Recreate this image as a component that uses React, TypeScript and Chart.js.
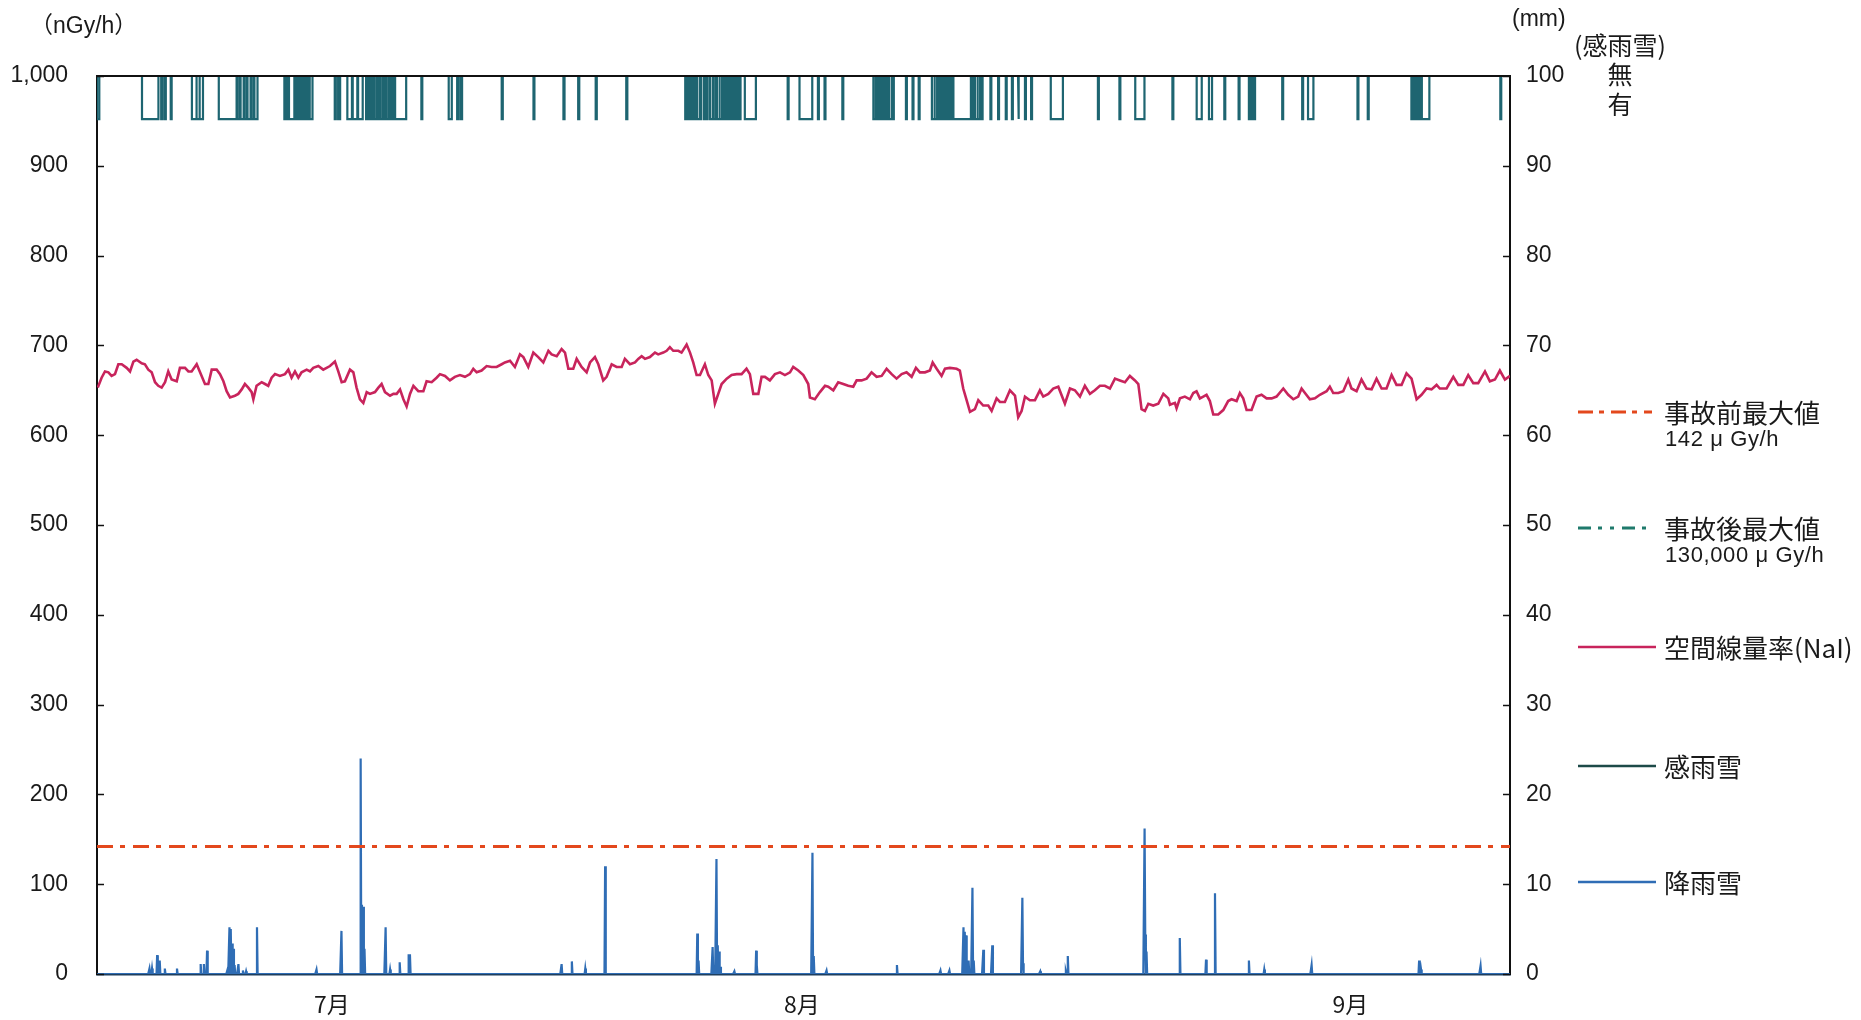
import React, { useEffect, useRef } from 'react';
import { Chart, registerables } from 'chart.js';

Chart.register(...registerables);

// ---------------- data ----------------
const TOTAL_DAYS = 92;
const monthTickDays = [15.3, 45.9, 81.6];
const monthLabels = ['7月', '8月', '9月'];

const preAccidentMax = 142; // nGy/h line
const postAccidentMax = 130000; // off-scale
const sensorOffLevel = 1000; // 無
const sensorOnLevel = 952; // 有

// 空間線量率(NaI) [day, nGy/h]
const naiDoseRate: [number, number][] = [
  [0.05, 653], [0.3, 664], [0.52, 671], [0.74, 670], [0.95, 666], [1.17, 668], [1.39, 679], [1.61, 679], [1.93, 675], [2.15, 671],
  [2.37, 682], [2.58, 684], [2.91, 680], [3.12, 679], [3.34, 673], [3.56, 670], [3.78, 659], [3.99, 655], [4.21, 653], [4.43, 659],
  [4.64, 671], [4.86, 662], [5.19, 660], [5.4, 675], [5.73, 675], [5.95, 671], [6.16, 671], [6.49, 679], [6.71, 670], [7.03, 657],
  [7.25, 657], [7.47, 673], [7.79, 673], [8.01, 668], [8.23, 660], [8.44, 649], [8.66, 642], [8.98, 644], [9.2, 646], [9.42, 651],
  [9.63, 657], [9.85, 653], [10.07, 648], [10.18, 640], [10.39, 655], [10.72, 659], [10.94, 657], [11.15, 655], [11.37, 664], [11.59, 668],
  [11.91, 666], [12.24, 668], [12.46, 673], [12.67, 664], [12.89, 671], [13.11, 664], [13.32, 670], [13.65, 673], [13.87, 671], [14.08, 675],
  [14.41, 677], [14.73, 673], [14.95, 675], [15.17, 677], [15.49, 682], [15.71, 671], [15.93, 659], [16.14, 660], [16.47, 673], [16.69, 670],
  [16.9, 653], [17.12, 640], [17.34, 636], [17.56, 648], [17.77, 646], [18.1, 648], [18.32, 653], [18.53, 657], [18.75, 648], [19.08, 644],
  [19.3, 646], [19.51, 646], [19.73, 651], [19.95, 640], [20.16, 632], [20.38, 646], [20.6, 655], [20.92, 649], [21.25, 649], [21.46, 660],
  [21.79, 659], [22.11, 664], [22.33, 668], [22.66, 666],
  [22.98, 661], [23.3, 665], [23.63, 667], [23.96, 665], [24.28, 668], [24.5, 674], [24.72, 670], [25.04, 672], [25.37, 677], [25.69, 676],
  [26.02, 676], [26.35, 679], [26.56, 681], [26.89, 683], [27.21, 676], [27.54, 690], [27.76, 687], [28.08, 676], [28.41, 692], [28.73, 687],
  [29.06, 681], [29.39, 694], [29.6, 690], [29.93, 688], [30.25, 696], [30.47, 692], [30.69, 674], [31.01, 674], [31.23, 685], [31.55, 676],
  [31.88, 670], [32.1, 681], [32.42, 687], [32.64, 679], [32.96, 661], [33.18, 665], [33.51, 679], [33.83, 676], [34.16, 676], [34.37, 685],
  [34.7, 679], [35.03, 681], [35.24, 685], [35.46, 688], [35.68, 685], [36.0, 687], [36.33, 692], [36.54, 690], [36.87, 692], [37.09, 694],
  [37.3, 698], [37.52, 694], [37.85, 694], [38.06, 692], [38.39, 701], [38.61, 692], [38.82, 681], [39.04, 667], [39.26, 667], [39.58, 679],
  [39.8, 667], [40.02, 661], [40.23, 635], [40.45, 646], [40.67, 657], [41.0, 663], [41.32, 667], [41.65, 668], [41.97, 668], [42.29, 674],
  [42.51, 668], [42.73, 646], [43.06, 646], [43.27, 665], [43.49, 665], [43.81, 661], [44.14, 668], [44.47, 670], [44.79, 667], [45.12, 670],
  [45.33, 676], [45.66, 672], [45.99, 667], [46.31, 657],
  [46.42, 642], [46.74, 640], [47.07, 648], [47.4, 655], [47.61, 654], [47.94, 650], [48.26, 659], [48.59, 657], [48.91, 655], [49.24, 654],
  [49.46, 661], [49.78, 661], [50.11, 663], [50.43, 670], [50.76, 665], [51.09, 666], [51.41, 674], [51.74, 668], [52.06, 663], [52.39, 668],
  [52.71, 670], [53.04, 665], [53.32, 675], [53.58, 670], [53.91, 670], [54.23, 672], [54.41, 681], [54.67, 674], [54.99, 666], [55.21, 674],
  [55.53, 675], [55.97, 674], [56.18, 672], [56.4, 652], [56.62, 639], [56.84, 626], [57.16, 629], [57.38, 639], [57.7, 633], [58.03, 633],
  [58.25, 627], [58.57, 641], [58.79, 637], [59.11, 637], [59.44, 650], [59.77, 644], [59.98, 620], [60.2, 627], [60.42, 643], [60.74, 639],
  [61.07, 639], [61.39, 650], [61.61, 643], [61.94, 646], [62.26, 652], [62.59, 654], [63.02, 635], [63.35, 652], [63.67, 650], [64.0, 643],
  [64.32, 655], [64.65, 646], [64.97, 650], [65.3, 655], [65.62, 655], [65.95, 652], [66.28, 663], [66.6, 661], [66.93, 659], [67.25, 666],
  [67.58, 661], [67.8, 657], [68.01, 629], [68.23, 627], [68.45, 635], [68.77, 633], [69.1, 635], [69.43, 646], [69.75, 641],
  [69.86, 634], [70.18, 636], [70.29, 630], [70.51, 641], [70.83, 643], [71.16, 640], [71.38, 647], [71.59, 649], [71.81, 641], [72.03, 643],
  [72.24, 645], [72.46, 638], [72.68, 623], [73.0, 623], [73.33, 628], [73.65, 638], [73.87, 640], [74.2, 638], [74.41, 647], [74.63, 641],
  [74.85, 628], [75.17, 628], [75.5, 643], [75.82, 645], [76.15, 641], [76.48, 641], [76.8, 643], [77.24, 652], [77.56, 645], [77.89, 640],
  [78.21, 643], [78.43, 652], [78.65, 647], [78.97, 640], [79.3, 641], [79.62, 645], [80.06, 649], [80.27, 654], [80.49, 647], [80.82, 647],
  [81.14, 649], [81.47, 662], [81.68, 652], [82.01, 649], [82.33, 662], [82.66, 652], [82.99, 651], [83.31, 663], [83.64, 652], [83.96, 652],
  [84.29, 667], [84.61, 656], [84.94, 656], [85.26, 669], [85.59, 663], [85.92, 640], [86.24, 645], [86.57, 652], [86.89, 651], [87.22, 656],
  [87.43, 652], [87.87, 652], [88.31, 665], [88.63, 656], [88.96, 656], [89.28, 667], [89.61, 658], [89.93, 658], [90.37, 671], [90.69, 660],
  [91.02, 662], [91.34, 672], [91.67, 662], [92.0, 666],
];

// 感雨雪: periods with 有 [startDay, endDay]
const sensorOnIntervals: [number, number][] = [
  [0.0, 0.15],
  [2.93, 4.0], [4.18, 4.25], [4.4, 4.48], [4.8, 4.86],
  [6.18, 6.45], [6.5, 6.65], [6.7, 6.9],
  [7.93, 9.09], [9.15, 9.3], [9.35, 9.55], [9.6, 9.75], [9.8, 10.0], [10.05, 10.2], [10.25, 10.45],
  [12.2, 12.28], [12.36, 12.42], [12.5, 12.85], [12.95, 13.0], [13.1, 13.2], [13.28, 13.4], [13.48, 13.6], [13.68, 13.78], [13.85, 14.03],
  [15.48, 15.55], [15.7, 15.83], [16.3, 16.6], [16.65, 16.95], [17.0, 17.3],
  [17.52, 17.62], [17.68, 17.8], [17.86, 18.0], [18.05, 18.2], [18.26, 18.4], [18.45, 18.6], [18.66, 18.8], [18.85, 19.0], [19.05, 19.15], [19.2, 19.27],
  [19.41, 20.13],
  [21.12, 21.18],
  [22.9, 23.1], [23.45, 23.55], [23.7, 23.77],
  [26.35, 26.42], [28.42, 28.48], [30.37, 30.44], [31.33, 31.4], [32.47, 32.54], [34.46, 34.53],
  [38.3, 38.4], [38.46, 38.6], [38.66, 38.8], [38.86, 39.0], [39.06, 39.2], [39.26, 39.32], [39.5, 39.56], [39.7, 39.76],
  [39.92, 40.1], [40.15, 40.3], [40.36, 40.5], [40.56, 40.7], [40.76, 40.9], [40.96, 41.1], [41.16, 41.3], [41.36, 41.5], [41.56, 41.7], [41.76, 41.9],
  [42.18, 42.9],
  [44.97, 45.03], [45.74, 46.57], [46.94, 47.0], [47.37, 47.43], [48.53, 48.59],
  [50.55, 50.7], [50.76, 50.9], [50.96, 51.1], [51.16, 51.3], [51.36, 51.5], [51.56, 51.7], [51.76, 51.88],
  [52.67, 52.73], [53.1, 53.16], [53.5, 53.56],
  [54.36, 54.5], [54.56, 54.7], [54.76, 54.9], [54.96, 55.1], [55.16, 55.3], [55.36, 55.5], [55.56, 55.7], [55.76, 56.9],
  [56.96, 57.1], [57.16, 57.3], [57.36, 57.5], [57.56, 57.66],
  [58.17, 58.23], [58.67, 58.73], [59.17, 59.23], [59.57, 59.63], [59.97, 60.03], [60.42, 60.48], [60.82, 60.88],
  [62.1, 62.89],
  [65.17, 65.23], [66.57, 66.63], [67.6, 68.2], [70.02, 70.08],
  [71.6, 71.93], [72.4, 72.6],
  [73.4, 73.46], [74.33, 74.39], [75.0, 75.12], [75.18, 75.3], [75.34, 75.4],
  [77.17, 77.23], [78.47, 78.53], [78.85, 79.2],
  [82.07, 82.13], [82.74, 82.8],
  [85.58, 85.66], [85.72, 85.84], [85.9, 86.02], [86.08, 86.2], [86.26, 86.75],
  [91.37, 91.43],
];

// 降雨雪 hourly amounts [day, mm]
const rainEvents: [number, number][] = [
  [3.42, 0.6], [3.6, 0.6], [3.9, 2.1], [4.0, 1.5], [4.1, 1.5], [4.4, 0.6],
  [5.2, 0.6],
  [6.75, 1.1], [6.95, 1.1], [7.17, 2.6],
  [8.5, 0.5], [8.62, 5.2], [8.7, 5.0], [8.78, 3.4], [8.87, 2.8], [8.95, 1.0], [9.2, 1.1], [9.5, 0.4], [9.7, 0.3],
  [10.4, 5.2],
  [14.3, 0.5],
  [15.9, 4.8],
  [17.17, 24.0], [17.25, 7.7], [17.33, 7.5], [17.42, 2.8],
  [18.8, 5.2],
  [19.1, 0.5], [19.7, 1.3], [20.3, 2.2], [20.38, 2.2],
  [30.25, 1.1], [30.9, 1.4], [31.8, 0.6],
  [33.07, 12.0],
  [39.1, 4.5], [39.15, 1.5],
  [40.1, 3.0], [40.35, 12.8], [40.42, 3.2], [40.5, 2.5], [40.6, 0.8],
  [41.5, 0.3],
  [42.9, 2.6], [42.96, 1.0],
  [46.6, 13.5], [46.66, 2.0],
  [47.5, 0.4],
  [52.1, 1.0],
  [54.9, 0.4], [55.5, 0.4],
  [56.4, 5.2], [56.5, 4.7], [56.6, 4.3], [56.75, 1.5], [57.0, 9.6], [57.08, 1.5], [57.7, 2.7], [58.3, 3.2],
  [60.25, 8.5], [60.3, 1.2],
  [61.4, 0.3],
  [63.1, 0.3], [63.2, 2.0],
  [68.2, 16.2], [68.26, 4.4], [68.32, 2.5],
  [70.5, 4.0],
  [72.2, 1.6], [72.8, 9.0],
  [75.0, 1.5], [76.0, 0.5],
  [79.1, 1.0],
  [86.1, 1.5], [86.2, 0.5],
  [90.1, 0.9],
];

// ---------------- styles ----------------
const C_PRE = '#e3481d';
const C_POST = '#1f7a6c';
const C_NAI = '#c8245c';
const C_SENSOR = '#1e6571';
const C_SENSOR_LEGEND = '#1d4a48';
const C_RAIN = '#2f6db5';
const NUM_FONT = '"Liberation Sans", Arial, "Noto Sans CJK JP", sans-serif';
const JP_FONT = '"Noto Sans CJK JP", "Liberation Sans", sans-serif';

function buildSensorPoints() {
  const pts: { x: number; y: number }[] = [{ x: 0, y: sensorOffLevel }];
  for (const [s, e] of sensorOnIntervals) {
    pts.push({ x: s, y: sensorOffLevel }, { x: s, y: sensorOnLevel }, { x: e, y: sensorOnLevel }, { x: e, y: sensorOffLevel });
  }
  pts.push({ x: TOTAL_DAYS, y: sensorOffLevel });
  return pts;
}

function buildRainPoints() {
  const byHour = new Map<number, number>();
  for (const [d, mm] of rainEvents) {
    const h = Math.round(d * 24);
    byHour.set(h, Math.max(byHour.get(h) ?? 0, mm));
  }
  const pts: { x: number; y: number }[] = [];
  for (let h = 0; h <= TOTAL_DAYS * 24; h++) pts.push({ x: h / 24, y: byHour.get(h) ?? 0 });
  return pts;
}

const decorPlugin = {
  id: 'decor',
  afterDatasetsDraw(chart: any) {
    const { ctx, chartArea, scales } = chart;
    const { left, right, top } = chartArea;
    ctx.save();
    ctx.strokeStyle = '#111';
    ctx.lineWidth = 2;
    ctx.beginPath();
    ctx.moveTo(left - 1, top);
    ctx.lineTo(right + 1, top);
    ctx.stroke();
    ctx.lineWidth = 1.5;
    for (const t of scales.y.ticks) {
      const yy = Math.round(scales.y.getPixelForValue(t.value)) + 0.5;
      ctx.beginPath();
      ctx.moveTo(left, yy);
      ctx.lineTo(left + 7, yy);
      ctx.stroke();
    }
    for (const t of scales.y2.ticks) {
      const yy = Math.round(scales.y2.getPixelForValue(t.value)) + 0.5;
      ctx.beginPath();
      ctx.moveTo(right - 7, yy);
      ctx.lineTo(right, yy);
      ctx.stroke();
    }
    ctx.fillStyle = '#1a1a1a';
    ctx.textBaseline = 'middle';
    ctx.textAlign = 'left';
    ctx.font = `23px ${NUM_FONT}`;
    ctx.fillText('（nGy/h）', 30, 27);
    ctx.fillText('(mm)', right + 2, 20);
    ctx.font = `25px ${JP_FONT}`;
    ctx.fillText('(感雨雪)', right + 64, 45);
    ctx.textAlign = 'center';
    ctx.fillText('無', right + 110, top - 2);
    ctx.fillText('有', right + 110, top + 28);
    ctx.restore();
  },
};

const legendItems = [
  { label: '事故前最大値', sub: '142 μ Gy/h', color: C_PRE, dash: '15 6 5 7', width: 3 },
  { label: '事故後最大値', sub: '130,000 μ Gy/h', color: C_POST, dash: '13 7 4 8 4 8', width: 3 },
  { label: '空間線量率(NaI)', sub: '', color: C_NAI, dash: '', width: 2.5 },
  { label: '感雨雪', sub: '', color: C_SENSOR_LEGEND, dash: '', width: 2.5 },
  { label: '降雨雪', sub: '', color: C_RAIN, dash: '', width: 2.5 },
];

export default function App() {
  const canvasRef = useRef<HTMLCanvasElement>(null);

  useEffect(() => {
    const ctx = canvasRef.current;
    if (!ctx) return;
    const tickFont = { family: NUM_FONT, size: 23 };
    const chart = new Chart(ctx, {
      type: 'line',
      data: {
        datasets: [
          {
            label: '事故前最大値',
            data: [{ x: 0, y: preAccidentMax }, { x: TOTAL_DAYS, y: preAccidentMax }],
            yAxisID: 'y',
            borderColor: C_PRE,
            borderWidth: 3,
            borderDash: [16, 7, 5, 8],
            pointRadius: 0,
          },
          {
            label: '事故後最大値',
            data: [{ x: 0, y: postAccidentMax }, { x: TOTAL_DAYS, y: postAccidentMax }],
            yAxisID: 'y',
            borderColor: C_POST,
            borderWidth: 3,
            borderDash: [13, 7, 4, 8, 4, 8],
            pointRadius: 0,
          },
          {
            label: '空間線量率(NaI)',
            data: naiDoseRate.map(([x, y]) => ({ x, y })),
            yAxisID: 'y',
            borderColor: C_NAI,
            borderWidth: 2.6,
            pointRadius: 0,
          },
          {
            label: '感雨雪',
            data: buildSensorPoints(),
            yAxisID: 'y',
            borderColor: C_SENSOR,
            borderWidth: 2.2,
            pointRadius: 0,
          },
          {
            label: '降雨雪',
            data: buildRainPoints(),
            yAxisID: 'y2',
            borderColor: C_RAIN,
            borderWidth: 2.2,
            pointRadius: 0,
          },
        ],
      } as any,
      options: {
        animation: false,
        responsive: false,
        maintainAspectRatio: false,
        layout: { padding: { top: 76, left: 0, right: 0, bottom: 0 } },
        plugins: { legend: { display: false }, tooltip: { enabled: false } },
        elements: { point: { radius: 0 }, line: { tension: 0 } },
        scales: {
          x: {
            type: 'linear',
            min: 0,
            max: TOTAL_DAYS,
            grid: { display: false, drawTicks: false },
            border: { display: true, color: '#1f3f5e', width: 2.5 },
            afterBuildTicks: (s: any) => {
              s.ticks = monthTickDays.map((v) => ({ value: v }));
            },
            ticks: {
              callback: (_v: any, i: number) => monthLabels[i],
              font: { family: JP_FONT, size: 23 },
              color: '#1a1a1a',
              padding: 16,
              maxRotation: 0,
              autoSkip: false,
            },
            afterFit: (s: any) => {
              s.height = 46;
            },
          },
          y: {
            position: 'left',
            min: 0,
            max: 1000,
            grid: { display: false, drawTicks: false },
            border: { display: true, color: '#111', width: 2 },
            ticks: {
              stepSize: 100,
              callback: (v: any) => Number(v).toLocaleString('en-US'),
              font: tickFont,
              color: '#1a1a1a',
              padding: 29,
            },
            afterFit: (s: any) => {
              s.width = 97;
            },
          },
          y2: {
            position: 'right',
            min: 0,
            max: 100,
            grid: { display: false, drawTicks: false },
            border: { display: true, color: '#111', width: 2 },
            ticks: {
              stepSize: 10,
              font: tickFont,
              color: '#1a1a1a',
              padding: 16,
            },
            afterFit: (s: any) => {
              s.width = 351;
            },
          },
        },
      } as any,
      plugins: [decorPlugin],
    });
    return () => chart.destroy();
  }, []);

  const rowY = [412, 528, 647, 766, 882];

  return (
    <div style={{ position: 'fixed', left: 0, top: 0, width: 1861, height: 1020, background: '#ffffff', overflow: 'hidden' }}>
      <canvas ref={canvasRef} width={1861} height={1020} style={{ position: 'absolute', left: 0, top: 0, width: 1861, height: 1020 }} />
      {legendItems.map((it, i) => (
        <React.Fragment key={it.label}>
          <svg style={{ position: 'absolute', left: 1578, top: rowY[i] - 5, width: 80, height: 10 }} width={80} height={10}>
            <line x1={0} y1={5} x2={it.dash ? 74 : 78} y2={5} stroke={it.color} strokeWidth={it.width} strokeDasharray={it.dash || undefined} />
          </svg>
          <div style={{ position: 'absolute', left: 1664, top: rowY[i] - 17, height: 34, lineHeight: '34px', fontFamily: JP_FONT, fontSize: 26, color: '#1a1a1a', whiteSpace: 'nowrap' }}>
            {it.label}
          </div>
          {it.sub ? (
            <div style={{ position: 'absolute', left: 1665, top: rowY[i] + 14, height: 26, lineHeight: '26px', fontFamily: NUM_FONT, fontSize: 22, letterSpacing: '0.6px', color: '#1a1a1a', whiteSpace: 'nowrap' }}>
              {it.sub}
            </div>
          ) : null}
        </React.Fragment>
      ))}
    </div>
  );
}
